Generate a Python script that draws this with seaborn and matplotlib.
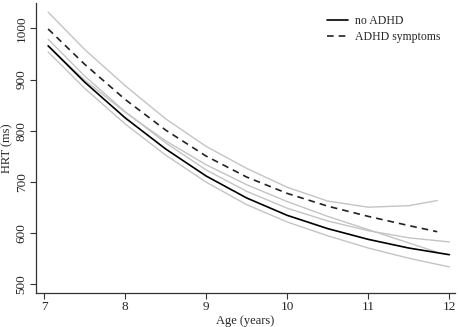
import pandas as pd
import seaborn as sns
import numpy as np
import matplotlib.pyplot as plt

# -- values --
age_no = [7.05, 7.5, 8, 8.5, 9, 9.5, 10, 10.5, 11, 11.5, 12]
hrt_no = [966, 895, 825, 764, 711, 668, 634, 608, 587, 570, 557]
hrt_no_upper = [979, 907, 837, 776, 723, 681, 648, 623, 604, 590, 582]
hrt_no_lower = [954, 883, 813, 752, 699, 655, 621, 594, 570, 550, 533]

age_adhd = [7.05, 7.5, 8, 8.5, 9, 9.5, 10, 10.5, 11, 11.5, 11.85]
hrt_adhd = [999, 930, 861, 801, 750, 709, 677, 652, 632, 614, 602]
hrt_adhd_upper = [1032, 959, 888, 823, 769, 726, 689, 662, 650, 653, 663]
hrt_adhd_lower = [966, 899, 836, 780, 733, 694, 661, 632, 606, 580, 562]

xticks = [7, 8, 9, 10, 11, 12]
yticks = [500, 600, 700, 800, 900, 1000]

no_df = pd.DataFrame({"Age": age_no, "HRT": hrt_no, "upper": hrt_no_upper, "lower": hrt_no_lower})
adhd_df = pd.DataFrame({"Age": age_adhd, "HRT": hrt_adhd, "upper": hrt_adhd_upper, "lower": hrt_adhd_lower})

sns.set_style("ticks")
plt.rcParams["font.family"] = ["Liberation Serif", "DejaVu Serif"]

fig = plt.figure(figsize=(4.59, 3.27), dpi=100)
ax = fig.add_axes([0.0784, 0.104, 0.913, 0.887])

# confidence bounds in light grey
for df in [no_df, adhd_df]:
	for col in ["upper", "lower"]:
		sns.lineplot(data=df, x="Age", y=col, color="#c4c4c4", lw=1.0, ax=ax)

sns.lineplot(data=no_df, x="Age", y="HRT", color="black", lw=1.2, ax=ax, label="no ADHD")
sns.lineplot(data=adhd_df, x="Age", y="HRT", color="#222222", lw=1.2, ls=(0, (4, 3)), ax=ax, label="ADHD symptoms")

ax.set_xlim(6.9, 12.07)
ax.set_ylim(482, 1050)
ax.set_xticks(xticks)
ax.set_yticks(yticks)
ax.set_yticklabels([str(v) for v in yticks], rotation=90, va="center")
ax.tick_params(labelsize=9.5, length=4, width=0.8, color="#333333", pad=2)
ax.set_xlabel("Age (years)", fontsize=9, labelpad=1)
ax.set_ylabel("HRT (ms)", fontsize=9, labelpad=2)
for s in ["left", "bottom"]:
	ax.spines[s].set_linewidth(0.9)
	ax.spines[s].set_color("#333333")
sns.despine(ax=ax)

leg = ax.legend(loc="upper right", bbox_to_anchor=(0.99, 0.995), frameon=False, fontsize=8.5,
	handlelength=1.8, handletextpad=0.6, labelspacing=0.35)

plt.savefig("out.png", dpi=100)
